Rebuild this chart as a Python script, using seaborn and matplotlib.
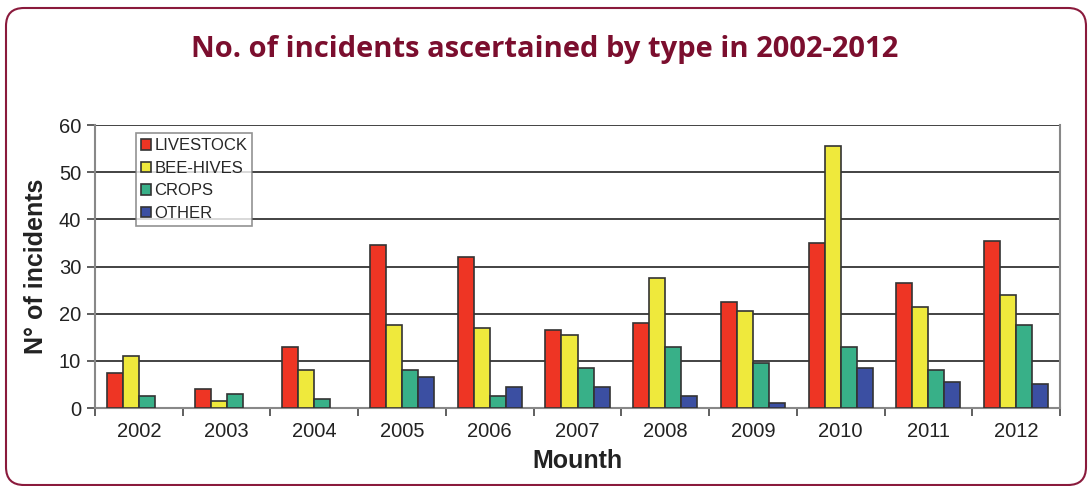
import matplotlib.pyplot as plt
import pandas as pd
import seaborn as sns
from matplotlib.patches import FancyBboxPatch
from matplotlib.transforms import IdentityTransform

years = ['2002', '2003', '2004', '2005', '2006', '2007', '2008', '2009', '2010', '2011', '2012']
livestock = [7.5, 4, 13, 34.5, 32, 16.5, 18, 22.5, 35, 26.5, 35.5]
bee_hives = [11, 1.5, 8, 17.5, 17, 15.5, 27.5, 20.5, 55.5, 21.5, 24]
crops = [2.5, 3, 2, 8, 2.5, 8.5, 13, 9.5, 13, 8, 17.5]
other = [0, 0, 0, 6.5, 4.5, 4.5, 2.5, 1, 8.5, 5.5, 5]
types = ['LIVESTOCK', 'BEE-HIVES', 'CROPS', 'OTHER']
colors = ['#ee3524', '#efe93c', '#38b088', '#3b4fa2']

# Long format for seaborn
rows = []
for t, vals in zip(types, [livestock, bee_hives, crops, other]):
    for y, v in zip(years, vals):
        rows.append({'year': y, 'type': t, 'value': v})
df = pd.DataFrame(rows)

sns.set_style('white')
plt.rcParams['font.family'] = ['Liberation Sans', 'DejaVu Sans']

W, H = 1089, 486
fig = plt.figure(figsize=(W / 100, H / 100), dpi=100)
ax = fig.add_axes([95 / W, 1 - 408 / H, 965 / W, 283 / H])

sns.barplot(data=df, x='year', y='value', hue='type', palette=colors,
            width=0.73, edgecolor='#333333', linewidth=1.2, saturation=1,
            ax=ax, zorder=3)

# zero bars are not drawn in the original (keep legend dummies alone)
for p in ax.patches:
    if p.get_width() > 0 and p.get_height() == 0:
        p.set_visible(False)

ax.set_ylim(0, 60)
ax.set_xlim(-0.5, len(years) - 0.5)
ax.set_yticks(range(0, 61, 10))
ax.yaxis.grid(True, color='#222222', linewidth=1.2, zorder=0)
ax.set_axisbelow(True)
ax.spines['top'].set_visible(False)
for s in ['left', 'right', 'bottom']:
    ax.spines[s].set_color('#888888')
    ax.spines[s].set_linewidth(1.5)

ax.set_xticks([i + 0.5 for i in range(-1, len(years))], minor=True)
ax.tick_params(axis='x', which='major', bottom=False, length=0, labelsize=14.5, pad=10, labelcolor='#222222')
ax.tick_params(axis='x', which='minor', bottom=True, length=6, width=1.2, color='#444444', direction='out')
ax.tick_params(axis='y', left=True, length=6, width=1.2, color='#444444', labelsize=14.5,
               labelcolor='#222222', direction='out', pad=4)

ax.set_xlabel('Mounth', fontsize=18, fontweight='bold', color='#222222', labelpad=6)
ax.set_ylabel('N° of incidents', fontsize=18, fontweight='bold', color='#222222', labelpad=8)

leg = ax.legend(loc='upper left', bbox_to_anchor=(0.034, 1.0), frameon=True, fancybox=False,
                fontsize=12, handlelength=0.6, handleheight=0.6, handletextpad=0.2,
                labelspacing=0.45, borderpad=0.3, title=None)
leg.get_frame().set_edgecolor('#777777')
leg.get_frame().set_linewidth(1.2)
for h in leg.legend_handles:
    h.set_edgecolor('#333333')
    h.set_linewidth(1.2)

fig.text(0.5, 1 - 50 / H, 'No. of incidents ascertained by type in 2002-2012',
         ha='center', va='center', fontsize=21, fontweight='bold', color='#7b0e2e',
         family=['Open Sans', 'DejaVu Sans'])

# rounded outer frame, drawn in pixel units
frame = FancyBboxPatch((6, H - 485), 1080, 477,
                       boxstyle='round,pad=0,rounding_size=18',
                       transform=IdentityTransform(), fill=False,
                       edgecolor='#8a1a3c', linewidth=1.5)
fig.patches.append(frame)

plt.savefig('out.png', dpi=100)
